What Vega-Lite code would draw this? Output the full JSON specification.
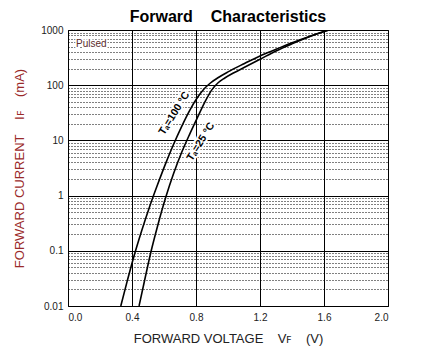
{
  "$schema": "https://vega.github.io/schema/vega-lite/v6.json",
  "autosize": {"type": "none"},
  "padding": {"left": 68, "top": 30, "right": 39, "bottom": 52},
  "width": 320,
  "height": 276,
  "background": "white",
  "title": {"text": "Forward\u00a0\u00a0\u00a0\u00a0Characteristics", "font": "Liberation Sans", "fontSize": 16, "fontWeight": "bold", "color": "black", "anchor": "middle", "offset": 0},
  "config": {
    "view": {"stroke": "black", "strokeWidth": 1},
    "axis": {"labelFont": "Liberation Sans", "titleFont": "Liberation Sans", "labelColor": "#222", "labelFontSize": 10, "titleFontSize": 13, "titleFontWeight": "normal"}
  },
  "datasets": {
    "curves": [
      {"V": 0.33, "I": 0.01, "series": "100"},
      {"V": 0.37, "I": 0.0282, "series": "100"},
      {"V": 0.41, "I": 0.0759, "series": "100"},
      {"V": 0.46, "I": 0.229, "series": "100"},
      {"V": 0.51, "I": 0.631, "series": "100"},
      {"V": 0.56, "I": 1.585, "series": "100"},
      {"V": 0.61, "I": 3.8, "series": "100"},
      {"V": 0.66, "I": 8.51, "series": "100"},
      {"V": 0.71, "I": 17.8, "series": "100"},
      {"V": 0.76, "I": 34.7, "series": "100"},
      {"V": 0.81, "I": 60.3, "series": "100"},
      {"V": 0.85, "I": 85.1, "series": "100"},
      {"V": 0.89, "I": 109.6, "series": "100"},
      {"V": 0.94, "I": 138, "series": "100"},
      {"V": 1.0, "I": 174, "series": "100"},
      {"V": 1.1, "I": 245, "series": "100"},
      {"V": 1.2, "I": 339, "series": "100"},
      {"V": 1.3, "I": 447, "series": "100"},
      {"V": 1.4, "I": 589, "series": "100"},
      {"V": 1.5, "I": 750, "series": "100"},
      {"V": 1.63, "I": 1000, "series": "100"},
      {"V": 0.444, "I": 0.01, "series": "25"},
      {"V": 0.48, "I": 0.0302, "series": "25"},
      {"V": 0.52, "I": 0.1, "series": "25"},
      {"V": 0.56, "I": 0.282, "series": "25"},
      {"V": 0.61, "I": 0.912, "series": "25"},
      {"V": 0.66, "I": 2.51, "series": "25"},
      {"V": 0.71, "I": 6.03, "series": "25"},
      {"V": 0.76, "I": 12.9, "series": "25"},
      {"V": 0.81, "I": 26.3, "series": "25"},
      {"V": 0.86, "I": 52.5, "series": "25"},
      {"V": 0.9, "I": 83.2, "series": "25"},
      {"V": 0.94, "I": 112, "series": "25"},
      {"V": 0.98, "I": 135, "series": "25"},
      {"V": 1.04, "I": 170, "series": "25"},
      {"V": 1.1, "I": 209, "series": "25"},
      {"V": 1.2, "I": 295, "series": "25"},
      {"V": 1.3, "I": 417, "series": "25"},
      {"V": 1.4, "I": 562, "series": "25"},
      {"V": 1.5, "I": 741, "series": "25"},
      {"V": 1.63, "I": 1000, "series": "25"}
    ],
    "labels": [
      {"V": 0.665, "I": 31, "label": "T\u2090=100 \u00b0C"},
      {"V": 0.83, "I": 9.5, "label": "T\u2090=25 \u00b0C"}
    ],
    "notes": [
      {"V": 0.05, "I": 560, "label": "Pulsed"}
    ]
  },
  "layer": [
    {
      "data": {"name": "curves"},
      "mark": {"type": "line", "color": "black", "strokeWidth": 1.6, "interpolate": "monotone", "clip": true},
      "encoding": {
        "x": {
          "field": "V", "type": "quantitative",
          "scale": {"domain": [0, 2], "nice": false, "zero": false},
          "axis": {
            "values": [0, 0.2, 0.4, 0.6, 0.8, 1.0, 1.2, 1.4, 1.6, 1.8, 2.0],
            "grid": true, "gridColor": "black", "gridOpacity": 1, "gridWidth": 1,
            "gridDash": {"condition": {"test": "abs(datum.value/0.4 - round(datum.value/0.4)) > 0.01", "value": [1, 2]}, "value": []},
            "ticks": false, "domain": false,
            "labelExpr": "abs(datum.value/0.4 - round(datum.value/0.4)) < 0.01 ? format(datum.value, '.1f') : ''",
            "labelPadding": 6,
            "title": "FORWARD VOLTAGE\u00a0\u00a0\u00a0\u00a0V\ua730\u00a0\u00a0\u00a0\u00a0(V)",
            "titleColor": "#222", "titlePadding": 10
          }
        },
        "y": {
          "field": "I", "type": "quantitative",
          "scale": {"type": "log", "domain": [0.01, 1000], "nice": false},
          "axis": {
            "values": [0.01, 0.02, 0.03, 0.04, 0.05, 0.06, 0.07, 0.08, 0.09, 0.1, 0.2, 0.3, 0.4, 0.5, 0.6, 0.7, 0.8, 0.9, 1, 2, 3, 4, 5, 6, 7, 8, 9, 10, 20, 30, 40, 50, 60, 70, 80, 90, 100, 200, 300, 400, 500, 600, 700, 800, 900, 1000],
            "grid": true, "gridColor": "black", "gridOpacity": 1, "gridWidth": 1,
            "gridDash": {"condition": {"test": "abs(log(datum.value)/LN10 - round(log(datum.value)/LN10)) > 0.01", "value": [1, 2]}, "value": []},
            "ticks": false, "domain": false,
            "labelExpr": "abs(log(datum.value)/LN10 - round(log(datum.value)/LN10)) < 0.01 ? format(datum.value, '~g') : ''",
            "labelPadding": 5,
            "title": "FORWARD CURRENT\u00a0\u00a0\u00a0\u00a0I\ua730\u00a0\u00a0\u00a0\u00a0(mA)",
            "titleColor": "#9a2a2a", "titlePadding": 14
          }
        },
        "detail": {"field": "series", "type": "nominal"}
      }
    },
    {
      "data": {"name": "labels"},
      "mark": {"type": "text", "angle": 302, "font": "Liberation Sans", "fontSize": 10.5, "fontWeight": "bold", "fill": "white", "stroke": "white", "strokeWidth": 4, "strokeJoin": "round"},
      "encoding": {"x": {"field": "V", "type": "quantitative"}, "y": {"field": "I", "type": "quantitative"}, "text": {"field": "label"}}
    },
    {
      "data": {"name": "labels"},
      "mark": {"type": "text", "angle": 302, "font": "Liberation Sans", "fontSize": 10.5, "fontWeight": "bold", "color": "black"},
      "encoding": {"x": {"field": "V", "type": "quantitative"}, "y": {"field": "I", "type": "quantitative"}, "text": {"field": "label"}}
    },
    {
      "data": {"name": "notes"},
      "mark": {"type": "text", "align": "left", "font": "Liberation Sans", "fontSize": 10, "fill": "white", "stroke": "white", "strokeWidth": 3},
      "encoding": {"x": {"field": "V", "type": "quantitative"}, "y": {"field": "I", "type": "quantitative"}, "text": {"field": "label"}}
    },
    {
      "data": {"name": "notes"},
      "mark": {"type": "text", "align": "left", "font": "Liberation Sans", "fontSize": 10, "color": "#5a2a2a"},
      "encoding": {"x": {"field": "V", "type": "quantitative"}, "y": {"field": "I", "type": "quantitative"}, "text": {"field": "label"}}
    }
  ]
}
